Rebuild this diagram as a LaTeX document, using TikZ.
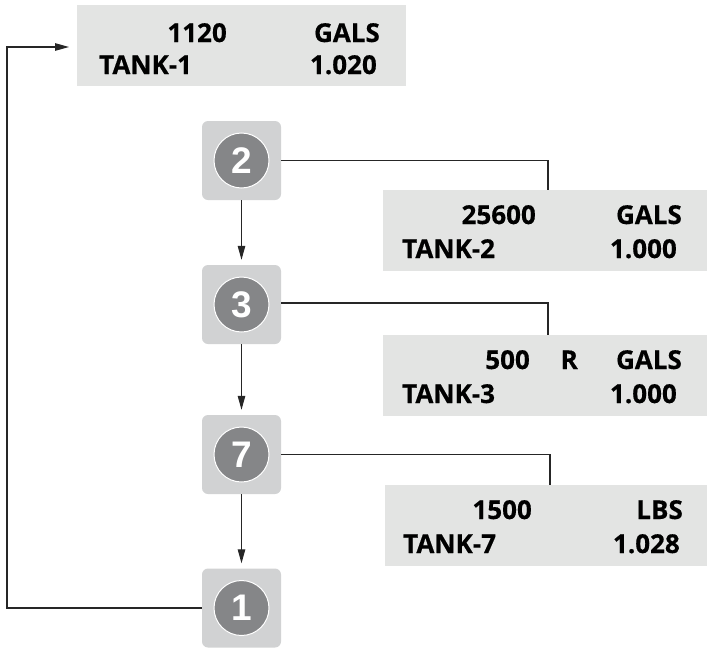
\documentclass[tikz,border=0pt]{standalone}
\usepackage{fontspec}
\setmainfont{Open Sans}
\newfontfamily\lblfont[BoldFeatures={FakeBold=0.5}]{Open Sans}
\newfontfamily\numfont{Liberation Sans Bold}
\usetikzlibrary{arrows.meta}
\definecolor{tankfill}{HTML}{E3E4E3}
\definecolor{sqfill}{HTML}{D1D2D3}
\definecolor{circfill}{HTML}{858688}
\definecolor{linecol}{HTML}{262626}
\tikzset{
  tank/.style={fill=tankfill, draw=none, anchor=north west, inner sep=0pt},
  sq/.style={fill=sqfill, draw=none, rounded corners=6pt, minimum size=79pt, inner sep=0pt},
  circ/.style={circle, fill=circfill, draw=white, line width=1pt, minimum size=55pt, inner sep=0pt,
    text=white, font=\numfont\fontsize{37}{37}\selectfont},
  lbl/.style={inner sep=0pt, font=\lblfont\bfseries\fontsize{26}{26}\selectfont},
  conn/.style={draw=linecol, line width=1.1pt},
  arr/.style={conn, -{Triangle[length=14pt,width=7.5pt]}},
}
\begin{document}
\begin{tikzpicture}[x=1pt,y=-1pt]
\useasboundingbox (0,0) rectangle (707,648);
% tank boxes
\node[tank, minimum width=329pt, minimum height=81pt] (t1) at (77,5) {};
\node[tank, minimum width=324pt, minimum height=81pt] (t2) at (383,190) {};
\node[tank, minimum width=324pt, minimum height=81pt] (t3) at (383,335) {};
\node[tank, minimum width=322pt, minimum height=81pt] (t7) at (385,485) {};
% tank texts
\node[lbl, anchor=base east] (t1a) at (227,42) {1120};
\node[lbl, anchor=base east] (t1b) at (380,42) {GALS};
\node[lbl, anchor=base west] (t1c) at (99,74) {TANK-1};
\node[lbl, anchor=base east] (t1d) at (377,74) {1.020};
\node[lbl, anchor=base east] (t2a) at (536,224) {25600};
\node[lbl, anchor=base east] (t2b) at (682,224) {GALS};
\node[lbl, anchor=base west] (t2c) at (402,258) {TANK-2};
\node[lbl, anchor=base east] (t2d) at (677,258) {1.000};
\node[lbl, anchor=base east] (t3a) at (530,369) {500};
\node[lbl, anchor=base east] (t3r) at (578,369) {R};
\node[lbl, anchor=base east] (t3b) at (682,369) {GALS};
\node[lbl, anchor=base west] (t3c) at (402,403) {TANK-3};
\node[lbl, anchor=base east] (t3d) at (677,403) {1.000};
\node[lbl, anchor=base east] (t7a) at (532,519) {1500};
\node[lbl, anchor=base east] (t7b) at (683,519) {LBS};
\node[lbl, anchor=base west] (t7c) at (403,553) {TANK-7};
\node[lbl, anchor=base east] (t7d) at (680,553) {1.028};
% step squares
\node[sq] (n2) at (241.5,160.5) {};
\node[sq] (n3) at (241.5,304.5) {};
\node[sq] (n7) at (241.5,454.5) {};
\node[sq] (n1) at (241.5,608) {};
\node[circ] (c2) at (n2) {2};
\node[circ] (c3) at (n3) {3};
\node[circ] (c7) at (n7) {7};
\node[circ] (c1) at (n1) {1};
% connectors to tanks
\coordinate (k2) at (548,190);
\coordinate (k3) at (548,335);
\coordinate (k7) at (550,485);
\draw[conn] (n2.east) -| (k2);
\draw[conn] (n3.east |- 0,303) -| (k3);
\draw[conn] (n7.east) -| (k7);
% vertical arrows
\draw[arr, shorten >=5pt] (n2.south) -- (n3.north);
\draw[arr, shorten >=5pt] (n3.south) -- (n7.north);
\draw[arr, shorten >=5pt] (n7.south) -- (n1.north);
% return loop
\coordinate (lb) at (7,608);
\coordinate (lt) at (7,47);
\draw[arr, shorten >=8pt] (n1.west) -- (lb) -- (lt) -- (t1.west |- lt);
\end{tikzpicture}
\end{document}
